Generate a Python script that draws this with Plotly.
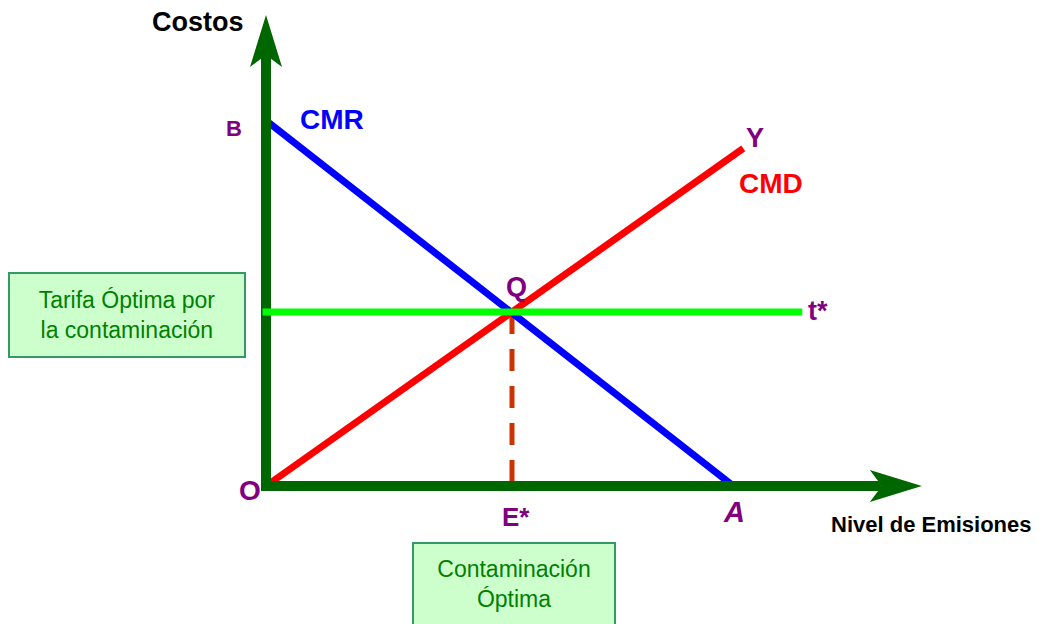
import plotly.graph_objects as go

# valores del diagrama (unidades arbitrarias de emisiones / costos)
e_star = 5.0          # contaminacion optima
t_star = 4.0          # tarifa optima
b_cmr = 8.4           # punto B sobre el eje de costos
a_cmr = 9.5           # punto A sobre el eje de emisiones
emisiones_cmr = [0, a_cmr]
costos_cmr = [b_cmr, 0]
emisiones_cmd = [0, 9.7]
costos_cmd = [0, 7.76]
emisiones_tarifa = [-0.07, 10.9]
costos_tarifa = [t_star, t_star]
eje_x_fin = 13.33
eje_y_fin = 10.83

# escala del dibujo: pixeles por unidad y posicion del origen en la pagina
W, H = 1044, 624
PAGE = 8              # margen del body en la pagina html
SX, SY = 49.2, 43.5
OX, OY = 266 - PAGE, 486 - PAGE

FONT = "Arial, Liberation Sans, sans-serif"
PURPLE = "#800080"
AXIS = "#006600"
BOX_FILL = "#CCFFCC"
BOX_LINE = "#339966"
BOX_TEXT = "#008000"

fig = go.Figure()


def line(x, y, color, width, dash=None):
    fig.add_trace(go.Scatter(x=x, y=y, mode="lines", hoverinfo="skip",
                             line=dict(color=color, width=width, dash=dash)))


# linea punteada E*-Q
line([e_star, e_star], [t_star, 0], "#CC3300", 5, dash="22px,15px")
# curvas
line(emisiones_cmr, costos_cmr, "#0000FF", 7)
line(emisiones_cmd, costos_cmd, "#FF0000", 7)

# ejes con flechas
head_len, notch, half_w = 52, 40, 16
line([-5 / SX, eje_x_fin - notch / SX], [0, 0], AXIS, 10)
line([0, 0], [-5 / SY, eje_y_fin - notch / SY], AXIS, 10)
fig.add_trace(go.Scatter(
    x=[eje_x_fin, eje_x_fin - head_len / SX, eje_x_fin - notch / SX, eje_x_fin - head_len / SX, eje_x_fin],
    y=[0, half_w / SY, 0, -half_w / SY, 0],
    mode="lines", fill="toself", fillcolor=AXIS, line=dict(width=0), hoverinfo="skip"))
fig.add_trace(go.Scatter(
    x=[0, half_w / SX, 0, -half_w / SX, 0],
    y=[eje_y_fin, eje_y_fin - head_len / SY, eje_y_fin - notch / SY, eje_y_fin - head_len / SY, eje_y_fin],
    mode="lines", fill="toself", fillcolor=AXIS, line=dict(width=0), hoverinfo="skip"))

# tarifa optima
line(emisiones_tarifa, costos_tarifa, "#00FF00", 7)


def label(text, x, y, dx, dy, color=PURPLE, size=27, xanchor="center"):
    fig.add_annotation(x=x, y=y, xref="x", yref="y", text=text, showarrow=False,
                       xshift=dx, yshift=dy, xanchor=xanchor, yanchor="middle",
                       font=dict(family=FONT, size=size, color=color))


label("<b>Costos</b>", 0, eje_y_fin, -20, -7, color="black", size=27, xanchor="right")
label("<b>Nivel de Emisiones</b>", eje_x_fin, 0, 10, -38, color="black", size=22)
label("<b>B</b>", 0, b_cmr, -32, -8, size=22)
label("<b>CMR</b>", 0, b_cmr, 66, 1, color="#0000FF", size=28)
label("<b>Y</b>", emisiones_cmd[1], costos_cmd[1], 12, 10, size=27)
label("<b>CMD</b>", emisiones_cmd[1], costos_cmd[1], 28, -35, color="#FF0000", size=28)
label("<b>Q</b>", e_star, t_star, 4, 25, size=27)
label("<b>t*</b>", emisiones_tarifa[1], t_star, 4, 1, size=27, xanchor="left")
label("<b>O</b>", 0, 0, -16, -4, size=28)
label("<b>E*</b>", e_star, 0, 4, -31, size=26)
label("<b><i>A</i></b>", a_cmr, 0, 1, -26, size=29)

# cuadros explicativos
fig.add_annotation(x=(8 - PAGE) / W, y=1 - (272 - PAGE) / H, xref="paper", yref="paper",
                   xanchor="left", yanchor="top", showarrow=False,
                   text="Tarifa Óptima por<br>la contaminación",
                   width=234, height=82, bgcolor=BOX_FILL, bordercolor=BOX_LINE,
                   borderwidth=2, borderpad=0, align="center", valign="middle",
                   font=dict(family=FONT, size=23, color=BOX_TEXT))
fig.add_annotation(x=e_star, y=(OY - (542 - PAGE)) / SY, xref="x", yref="y",
                   xshift=2, xanchor="center", yanchor="top", showarrow=False,
                   text="Contaminación<br>Óptima",
                   width=176, height=94, bgcolor=BOX_FILL, bordercolor=BOX_LINE,
                   borderwidth=2, borderpad=12, align="center", valign="top",
                   font=dict(family=FONT, size=23, color=BOX_TEXT))

fig.update_layout(
    width=W, height=H,
    margin=dict(l=0, r=0, t=0, b=0),
    paper_bgcolor="white", plot_bgcolor="white",
    showlegend=False,
    xaxis=dict(visible=False, range=[-OX / SX, (W - OX) / SX], fixedrange=True),
    yaxis=dict(visible=False, range=[-(H - OY) / SY, OY / SY], fixedrange=True),
)

fig.write_html("out.html")
